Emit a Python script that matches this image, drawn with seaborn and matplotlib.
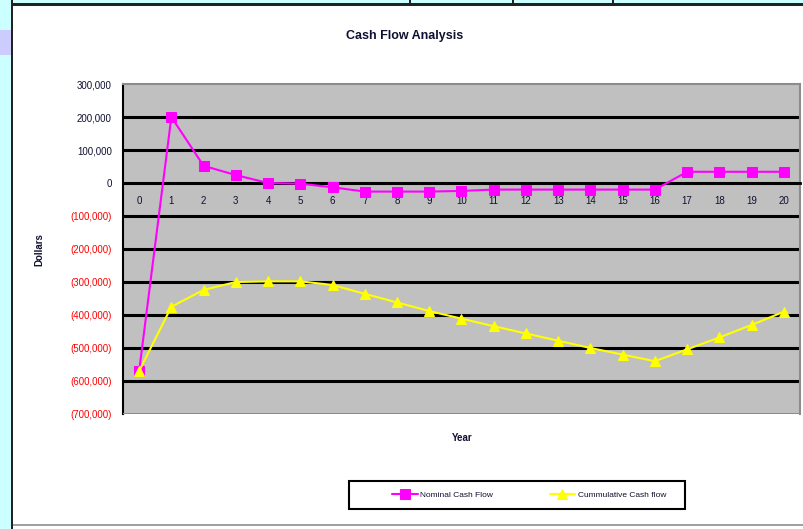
import numpy as np
import pandas as pd
import seaborn as sns
import matplotlib.pyplot as plt
from matplotlib.patches import Rectangle
from matplotlib.ticker import FuncFormatter

# ------------------------------------------------------------
# data
# ------------------------------------------------------------
years = list(range(21))
nominal = [-570000, 200000, 52000, 24000, 0, -2000, -13000, -26000, -26000, -26000,
           -24000, -20000, -20000, -20000, -20000, -20000, -20000, 34000, 34000, 34000, 34000]
cumulative = [-570000, -375000, -324000, -300000, -298000, -298000, -309000, -336000,
              -362000, -388000, -411000, -434000, -456000, -478000, -500000, -520000,
              -540000, -504000, -468000, -430000, -390000]
series_names = ["Nominal Cash Flow", "Cummulative Cash flow"]
y_ticks = list(range(-700000, 300001, 100000))

df = pd.DataFrame({"Year": years, series_names[0]: nominal, series_names[1]: cumulative})

sns.set_style("white")
plt.rcParams['font.family'] = ['Liberation Sans Narrow', 'Liberation Sans', 'DejaVu Sans']

W, H = 804, 529
fig = plt.figure(figsize=(W / 100, H / 100), dpi=100)

# spreadsheet frame around the chart (pixel coords)
def px_rect(x0, y0, x1, y1, color, edge='none', lw=0, z=0):
    fig.patches.append(Rectangle((x0 / W, 1 - y1 / H), (x1 - x0) / W, (y1 - y0) / H,
                                 transform=fig.transFigure, facecolor=color,
                                 edgecolor=edge, linewidth=lw, zorder=z))

px_rect(0, 0, 11, H, '#CCFFFF')
px_rect(0, 30, 11, 55, '#CCCCFF')
px_rect(11, 0, 13, H, '#222222')
px_rect(13, 0, W, 3, '#CCFFFF')
px_rect(13, 3, W, 6, '#222222')
for xv in (410, 513, 613):
    px_rect(xv - 1, 0, xv + 1, 6, '#222222')
px_rect(13, 524, W, 526, '#A0A0A0')

ax = fig.add_axes([123 / W, 1 - 414 / H, (800 - 123) / W, (414 - 84) / H])
ax.set_facecolor('#C0C0C0')

sns.lineplot(data=df, x="Year", y=series_names[0], ax=ax, color='#FF00FF',
             marker='s', markersize=6.5, markeredgecolor='#FF00FF', linewidth=1.5,
             label=series_names[0], zorder=5)
sns.lineplot(data=df, x="Year", y=series_names[1], ax=ax, color='#FFFF00',
             marker='^', markersize=6.5, markeredgecolor='#FFFF00', linewidth=1.5,
             label=series_names[1], zorder=5)

ax.set_xlim(-0.5, 20.5)
ax.set_ylim(-700000, 300000)
ax.set_xlabel("")
ax.set_ylabel("")

# horizontal gridlines (Excel style)
for v in y_ticks[1:-1]:
    ax.axhline(v, color='black', linewidth=2.2, zorder=1)

# axes
for s in ('top', 'right'):
    ax.spines[s].set_color('#8C8C8C')
    ax.spines[s].set_linewidth(1.5)
ax.spines['left'].set_color('black')
ax.spines['left'].set_linewidth(1.5)
ax.spines['bottom'].set_position(('data', 0))
ax.spines['bottom'].set_color('black')
ax.spines['bottom'].set_linewidth(2)
ax.add_patch(Rectangle((0, 0), 1, 0.004, transform=ax.transAxes, facecolor='#8C8C8C',
                       edgecolor='none', clip_on=False, zorder=3))

ax.set_yticks(y_ticks)
ax.yaxis.set_major_formatter(FuncFormatter(
    lambda v, p: "0" if v == 0 else (f"{v:,.0f}" if v > 0 else f"({-v:,.0f})")))
ax.tick_params(axis='y', direction='out', length=5, width=1.5, color='black',
               labelsize=7, pad=3)
for lbl, v in zip(ax.get_yticklabels(), y_ticks):
    lbl.set_color('#FF0000' if v < 0 else '#101030')

ax.set_xticks(years)
ax.set_xticks([x + 0.5 for x in years[:-1]], minor=True)
ax.tick_params(axis='x', which='major', length=0, labelsize=7, pad=9, labelcolor='#101030')
ax.tick_params(axis='x', which='minor', direction='out', length=5, width=1.5, color='black')

# legend: box drawn by hand, entries without frame
ax.legend_.remove()
px_rect(349, 481, 685, 509, 'white', edge='black', lw=1.5, z=1)
handles, labels = ax.get_legend_handles_labels()
leg = fig.legend(handles, labels, loc='center', ncol=2,
                 bbox_to_anchor=(529 / W, 1 - 495 / H), frameon=False,
                 fontsize=6, handlelength=3.1, columnspacing=6.8, handletextpad=0.3)
leg.set_zorder(2)
for t in leg.get_texts():
    t.set_color('#101030')

fig.text(405 / W, 1 - 36 / H, "Cash Flow Analysis", ha='center', va='center',
         fontsize=9, fontweight='bold', color='#101030')
fig.text(462 / W, 1 - 438 / H, "Year", ha='center', va='center',
         fontsize=7, fontweight='bold', color='#101030')
fig.text(39 / W, 1 - 250 / H, "Dollars", ha='center', va='center', rotation=90,
         fontsize=7, fontweight='bold', color='#101030')

fig.savefig("out.png", dpi=100)
